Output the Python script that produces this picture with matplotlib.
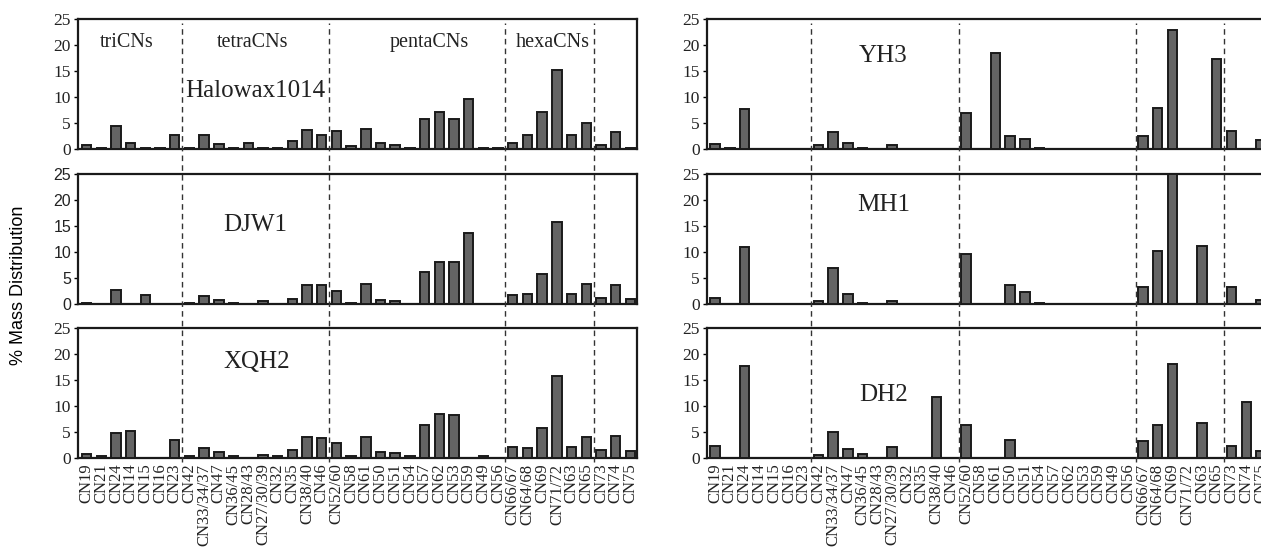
import matplotlib
matplotlib.use("Agg")
import matplotlib.pyplot as plt
import matplotlib.transforms as mtransforms
from matplotlib.lines import Line2D
import numpy as np

# congener names along the x axis
congeners = ["CN19", "CN21", "CN24", "CN14", "CN15", "CN16", "CN23",
             "CN42", "CN33/34/37", "CN47", "CN36/45", "CN28/43", "CN27/30/39",
             "CN32", "CN35", "CN38/40", "CN46",
             "CN52/60", "CN58", "CN61", "CN50", "CN51", "CN54", "CN57", "CN62",
             "CN53", "CN59", "CN49", "CN56",
             "CN66/67", "CN64/68", "CN69", "CN71/72", "CN63", "CN65",
             "CN73", "CN74", "CN75"]

# % mass distribution per sample
halowax1014 = [0.7, 0.2, 4.4, 1.2, 0.25, 0.2, 2.7,
               0.25, 2.7, 1.0, 0.2, 1.2, 0.2, 0.2, 1.6, 3.7, 2.6,
               3.5, 0.5, 3.9, 1.2, 0.8, 0.2, 5.7, 7.2, 5.7, 9.7, 0.2, 0.2,
               1.2, 2.7, 7.2, 15.1, 2.7, 5.0,
               0.8, 3.2, 0.2]
djw1 = [0.2, 0, 2.7, 0, 1.7, 0, 0,
        0.2, 1.5, 0.7, 0.2, 0, 0.6, 0, 1.0, 3.7, 3.7,
        2.5, 0.2, 3.8, 0.7, 0.5, 0, 6.1, 8.1, 8.1, 13.6, 0, 0,
        1.7, 1.9, 5.8, 15.8, 1.9, 3.8,
        1.1, 3.7, 0.9]
xqh2 = [0.7, 0.3, 4.8, 5.1, 0, 0, 3.4,
        0.4, 2.0, 1.1, 0.4, 0, 0.6, 0.3, 1.5, 4.1, 3.8,
        2.8, 0.4, 4.0, 1.1, 1.0, 0.4, 6.3, 8.4, 8.2, 0, 0.3, 0,
        2.2, 2.0, 5.7, 15.8, 2.2, 4.0,
        1.5, 4.2, 1.3]
yh3 = [1.0, 0.2, 7.6, 0, 0, 0, 0,
       0.7, 3.2, 1.2, 0.2, 0, 0.8, 0, 0, 0, 0,
       7.0, 0, 18.5, 2.5, 1.9, 0.25, 0, 0, 0, 0, 0, 0,
       2.5, 7.9, 22.8, 0, 0, 17.4,
       3.4, 0, 1.7]
mh1 = [1.1, 0, 11.0, 0, 0, 0, 0,
       0.65, 6.9, 1.9, 0.2, 0, 0.65, 0, 0, 0, 0,
       9.7, 0, 0, 3.6, 2.4, 0.2, 0, 0, 0, 0, 0, 0,
       3.2, 10.1, 25.0, 0, 11.1, 0,
       3.2, 0, 0.7]
dh2 = [2.3, 0, 17.7, 0, 0, 0, 0,
       0.6, 5.0, 1.8, 0.8, 0, 2.2, 0, 0, 11.8, 0,
       6.3, 0, 0, 3.5, 0, 0, 0, 0, 0, 0, 0, 0,
       3.3, 6.3, 18.0, 0, 6.7, 0,
       2.3, 10.8, 1.4]

group_names = ["triCNs", "tetraCNs", "pentaCNs", "hexaCNs"]
group_pos = [2.75, 11.3, 23.3, 31.7]
dividers = [6.5, 16.5, 28.5, 34.5]

SERIF = "Liberation Serif"
SANS = "Liberation Sans"

fig = plt.figure(figsize=(12.61, 5.52), dpi=100)

W, H = 1261.0, 552.0
rows_px = [(19, 149), (174, 304), (328, 458)]
cols_px = [(78, 637), (707, 1261)]

panels = [
    (0, 0, halowax1014, "Halowax1014", (11.5, 11.1), SERIF),
    (1, 0, djw1, "DJW1", (11.5, 15.2), SANS),
    (2, 0, xqh2, "XQH2", (11.6, 18.5), SERIF),
    (0, 1, yh3, "YH3", (11.4, 17.8), SERIF),
    (1, 1, mh1, "MH1", (11.4, 19.0), SERIF),
    (2, 1, dh2, "DH2", (11.4, 12.1), SERIF),
]

x = np.arange(len(congeners))
axes = {}
for r, c, vals, name, (tx, ty), tickfont in panels:
    top, bot = rows_px[r]
    lft, rgt = cols_px[c]
    ax = fig.add_axes([lft / W, 1 - bot / H, (rgt - lft) / W, (bot - top) / H])
    axes[(r, c)] = ax
    ax.bar(x, vals, width=0.64, color="#646464", edgecolor="#1a1a1a", linewidth=1.4, zorder=3)
    ax.set_ylim(0, 25)
    if c == 0:
        ax.set_xlim(-0.58, 37.45)
    else:
        ax.set_xlim(-0.55, 36.97)
        ax.spines["right"].set_visible(False)
    for s in ax.spines.values():
        s.set_linewidth(1.6)
        s.set_color("#1a1a1a")
    ax.set_yticks([0, 5, 10, 15, 20, 25])
    fs = 12.5 if tickfont == SERIF else 11.5
    ax.set_yticklabels(["0", "5", "10", "15", "20", "25"], family=tickfont, fontsize=fs, color="#222222")
    ax.tick_params(axis="y", direction="out", length=3, width=1, pad=2)
    ax.set_xticks(x)
    if r == 2:
        ax.set_xticklabels(congeners, rotation=90, family=SERIF, fontsize=12, color="#222222")
        ax.tick_params(axis="x", length=0, pad=4)
    else:
        ax.set_xticklabels([])
        ax.tick_params(axis="x", length=0)
    ax.text(tx, ty, name, ha="center", va="center", family=SERIF, fontsize=18, color="#222222")

# group labels on Halowax panel
for g, gx in zip(group_names, group_pos):
    axes[(0, 0)].text(gx, 20.5, g, ha="center", va="center", family=SERIF, fontsize=14.5, color="#222222")

# dashed dividers running through all three rows
for c in range(2):
    ax_ref = axes[(2, c)]
    trans = mtransforms.blended_transform_factory(ax_ref.transData, fig.transFigure)
    for d in dividers:
        ln = Line2D([d, d], [1 - 462 / H, 1 - 23 / H], transform=trans, color="#333333",
                    linestyle=(0, (4, 3)), linewidth=1.0, zorder=5)
        fig.add_artist(ln)

fig.text(0.0143, 0.484, "% Mass Distribution", rotation=90, ha="center", va="center",
         family=SANS, fontsize=13)

fig.savefig("out.png", dpi=100)
